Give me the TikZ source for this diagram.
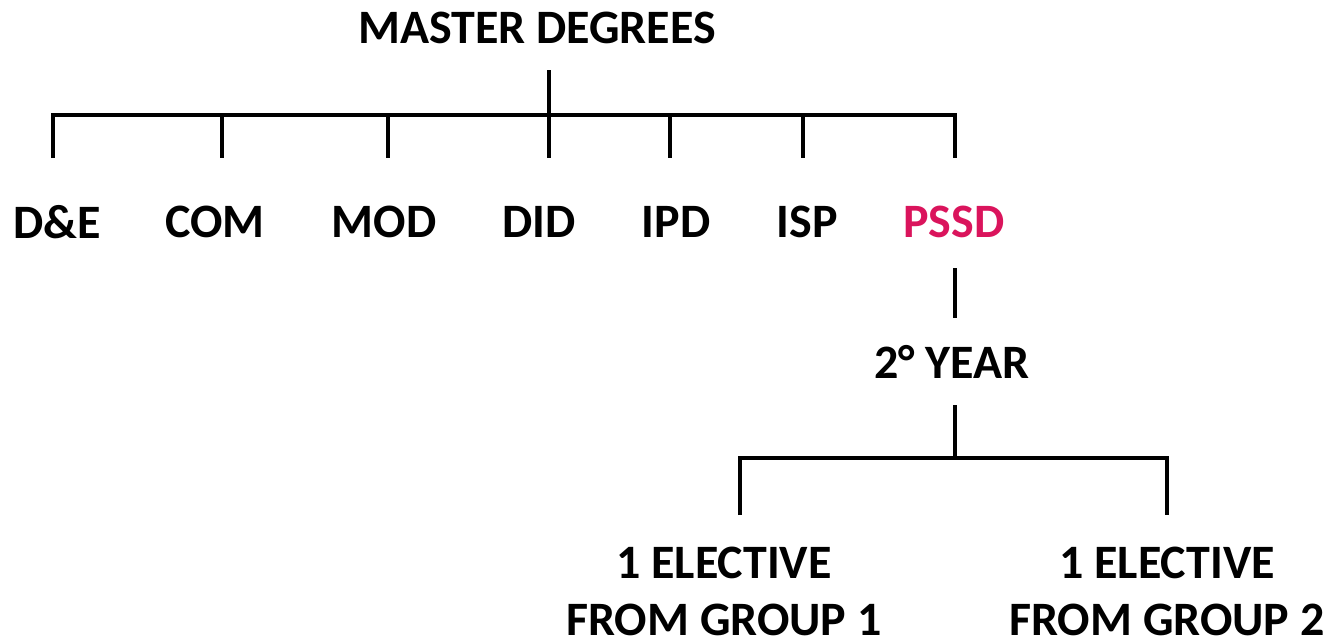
\documentclass[tikz,border=0pt]{standalone}
\usepackage{fontspec}
\setmainfont{Carlito}
\definecolor{pssd}{RGB}{218,20,92}
\begin{document}
\begin{tikzpicture}[x=0.02cm,y=-0.02cm,
  lbl/.style={font=\fontsize{27.3}{32.5}\selectfont\bfseries, inner sep=0pt, align=center},
  conn/.style={line width=2pt}]
\useasboundingbox (0,0) rectangle (1327,640);
% text nodes
\node[lbl] (root) at (537,28) {MASTER DEGREES};
\node[lbl] (de)   at (57,222)  {D\&E};
\node[lbl] (com)  at (215,222) {COM};
\node[lbl] (mod)  at (384,222) {MOD};
\node[lbl] (did)  at (539,222) {DID};
\node[lbl] (ipd)  at (676,222) {IPD};
\node[lbl] (isp)  at (807,222) {ISP};
\node[lbl, text=pssd] (pssd) at (954,222) {PSSD};
\node[lbl] (year) at (952,362) {2° YEAR};
\node[lbl] (el1)  at (724,591) {1 ELECTIVE\\FROM GROUP 1};
\node[lbl] (el2)  at (1167,591) {1 ELECTIVE\\FROM GROUP 2};
% junction coordinates
\coordinate (rootdown) at (549,70);
\coordinate (rootbar)  at (549,115);
\coordinate (barL) at (53,115);
\coordinate (barR) at (955,115);
\coordinate (tde)  at (53,158);
\coordinate (tcom) at (222,158);
\coordinate (tmod) at (388,158);
\coordinate (tdid) at (549,158);
\coordinate (tipd) at (670,158);
\coordinate (tisp) at (803,158);
\coordinate (tpssd) at (955,158);
\coordinate (bpssd) at (955,268);
\coordinate (tyear) at (955,318);
\coordinate (byear) at (955,405);
\coordinate (ybar)  at (955,458);
\coordinate (ybarL) at (740,458);
\coordinate (ybarR) at (1167,458);
\coordinate (tel1) at (740,515);
\coordinate (tel2) at (1167,515);
% connectors
\draw[conn] (rootdown) -- (rootbar);
\draw[conn] (barL |- tde) -- (barL) -- (barR) -- (tpssd);
\foreach \c in {tcom,tmod,tdid,tipd,tisp}
  \draw[conn] (\c |- barL) -- (\c);
\draw[conn] (bpssd) -- (tyear);
\draw[conn] (byear) -- (ybar);
\draw[conn] (tel1) -- (ybarL) -- (ybarR) -- (tel2);
\end{tikzpicture}
\end{document}
